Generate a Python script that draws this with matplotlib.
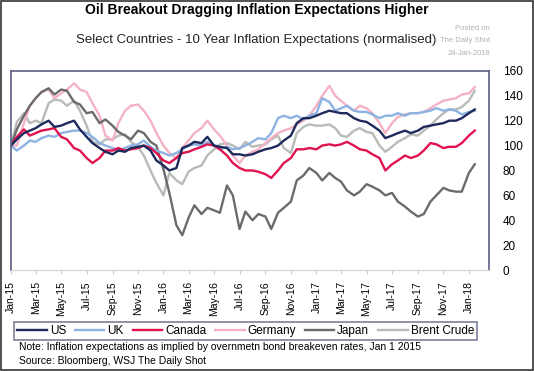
import numpy as np
import pandas as pd
import matplotlib
matplotlib.use("Agg")
import matplotlib.pyplot as plt
import matplotlib.dates as mdates
from matplotlib.patches import Rectangle

plt.rcParams['font.family'] = ['Liberation Sans', 'DejaVu Sans']

# semi-monthly observations, Jan 2015 - Jan 2018 (normalised, Jan 1 2015 = 100)
dates = pd.date_range('2015-01-01', '2018-01-15', freq='SMS')

us = [100, 105, 110, 112, 114, 117, 120, 115, 116, 118, 120, 113, 107, 102, 98, 95,
      93, 96, 95, 98, 99, 100, 96, 88, 84, 80, 82, 98, 100, 103, 102, 107,
      100, 99, 98, 93, 93, 92, 93, 95, 97, 98, 100, 104, 108, 118, 122, 122,
      124, 126, 128, 127, 126, 126, 122, 120, 119, 116, 112, 106, 108, 110, 112, 110,
      112, 115, 116, 117, 118, 120, 120, 122, 126, 129]
uk = [100, 96, 100, 104, 103, 106, 108, 107, 110, 111, 112, 112, 110, 107, 102, 100,
      98, 96, 98, 100, 101, 104, 99, 96, 94, 92, 94, 97, 100, 101, 100, 103,
      100, 97, 99, 97, 98, 100, 103, 106, 105, 110, 122, 124, 122, 124, 121, 124,
      126, 138, 135, 128, 130, 132, 128, 127, 127, 125, 122, 124, 124, 126, 124, 126,
      126, 127, 128, 130, 128, 129, 128, 125, 127, 128]
canada = [100, 107, 113, 108, 110, 112, 113, 114, 107, 105, 98, 96, 90, 86, 90, 96,
          96, 98, 96, 97, 98, 100, 98, 94, 88, 86, 90, 94, 95, 97, 99, 101,
          100, 97, 92, 86, 82, 80, 80, 79, 77, 74, 80, 86, 90, 97, 97, 98,
          97, 100, 101, 100, 101, 103, 100, 97, 96, 93, 90, 80, 85, 88, 92, 90,
          92, 96, 102, 101, 98, 99, 99, 102, 108, 112]
germany = [100, 100, 118, 132, 138, 143, 145, 138, 142, 145, 150, 145, 143, 134, 124, 108,
           104, 118, 128, 132, 133, 128, 120, 110, 100, 94, 90, 98, 104, 110, 114, 120,
           113, 108, 100, 92, 86, 92, 95, 97, 102, 106, 110, 112, 114, 117, 120, 124,
           132, 140, 148, 140, 136, 132, 128, 132, 130, 126, 118, 110, 118, 123, 125, 126,
           126, 127, 130, 133, 136, 137, 138, 141, 142, 147]
japan = [100, 113, 124, 132, 138, 143, 146, 141, 145, 144, 135, 133, 126, 127, 118, 121,
         116, 111, 108, 105, 112, 110, 103, 100, 81, 62, 36, 28, 42, 52, 45, 50,
         48, 46, 68, 60, 33, 47, 40, 45, 43, 33, 46, 50, 55, 72, 76, 82,
         78, 72, 78, 74, 71, 64, 60, 63, 69, 67, 64, 60, 62, 55, 51, 47,
         43, 45, 55, 60, 66, 64, 63, 63, 78, 85]
brent = [100, 119, 126, 118, 120, 118, 134, 137, 136, 132, 136, 128, 116, 103, 101, 105,
         105, 108, 109, 103, 99, 92, 80, 70, 60, 78, 72, 69, 79, 82, 84, 92,
         97, 101, 102, 100, 97, 103, 99, 100, 101, 105, 108, 98, 94, 110, 115, 117,
         116, 116, 117, 114, 108, 107, 112, 114, 111, 110, 100, 95, 99, 103, 106, 109,
         108, 112, 116, 121, 126, 129, 129, 131, 136, 144]

names = ['US', 'UK', 'Canada', 'Germany', 'Japan', 'Brent Crude']
colors = ['#1f2a5c', '#8db3e2', '#e0124f', '#f4b2c4', '#6b6b6b', '#b7bcb7']
series = [us, uk, canada, germany, japan, brent]

fig = plt.figure(figsize=(5.34, 3.71), dpi=100)
ax = fig.add_axes([0.0206, 0.272, 0.895, 0.537])

# draw order: background lines first, US on top
order = [5, 3, 4, 1, 2, 0]
lines = {}
for i in order:
    l, = ax.plot(dates, series[i], color=colors[i], lw=1.7, label=names[i])
    lines[i] = l

ax.set_ylim(0, 160)
ax.set_yticks(range(0, 161, 20))
ax.set_xlim(pd.Timestamp('2015-01-01'), pd.Timestamp('2018-02-18'))
ax.xaxis.set_major_locator(mdates.MonthLocator(bymonth=[1, 3, 5, 7, 9, 11]))
ax.xaxis.set_major_formatter(mdates.DateFormatter('%b-%y'))
plt.setp(ax.get_xticklabels(), rotation=90, fontsize=7.5)
ax.tick_params(axis='x', length=3, color='#cccccc', pad=5)
ax.yaxis.tick_right()
ax.tick_params(axis='y', length=0, pad=10, labelsize=8.5)

for s in ['left', 'right', 'top']:
    ax.spines[s].set_color('#5b6083')
    ax.spines[s].set_linewidth(1.2)
ax.spines['bottom'].set_color('#d0d0d0')

fig.text(0.48, 0.972, 'Oil Breakout Dragging Inflation Expectations Higher',
         ha='center', va='center', fontsize=10, fontweight='bold')
fig.text(0.48, 0.892, 'Select Countries - 10 Year Inflation Expectations (normalised)',
         ha='center', va='center', fontsize=9.5, color='#222222')
for yy, t in zip([0.924, 0.892, 0.857], ['Posted on', 'The Daily Shot', '24-Jan-2018']):
    fig.text(0.918, yy, t, ha='right', va='center', fontsize=5.5, color='#b0b0b0')

handles = [lines[i] for i in range(6)]
leg = fig.legend(handles, names, loc='center', bbox_to_anchor=(0.46, 0.108),
                 ncol=6, fontsize=8.5, frameon=True, fancybox=False,
                 handlelength=2.5, handletextpad=0.25, columnspacing=0.75,
                 borderpad=0.25, edgecolor='#5b6083')
leg.get_frame().set_linewidth(1.2)

fig.text(0.036, 0.065, 'Note: Inflation expectations as implied by overnmetn bond breakeven rates, Jan 1 2015',
         fontsize=7.5, va='center')
fig.text(0.036, 0.027, 'Source: Bloomberg, WSJ The Daily Shot', fontsize=7.5, va='center')

fig.patches.append(Rectangle((0.001, 0.002), 0.997, 0.995, transform=fig.transFigure,
                             fill=False, edgecolor='#333333', lw=1.2))

fig.savefig('out.png', dpi=100)
